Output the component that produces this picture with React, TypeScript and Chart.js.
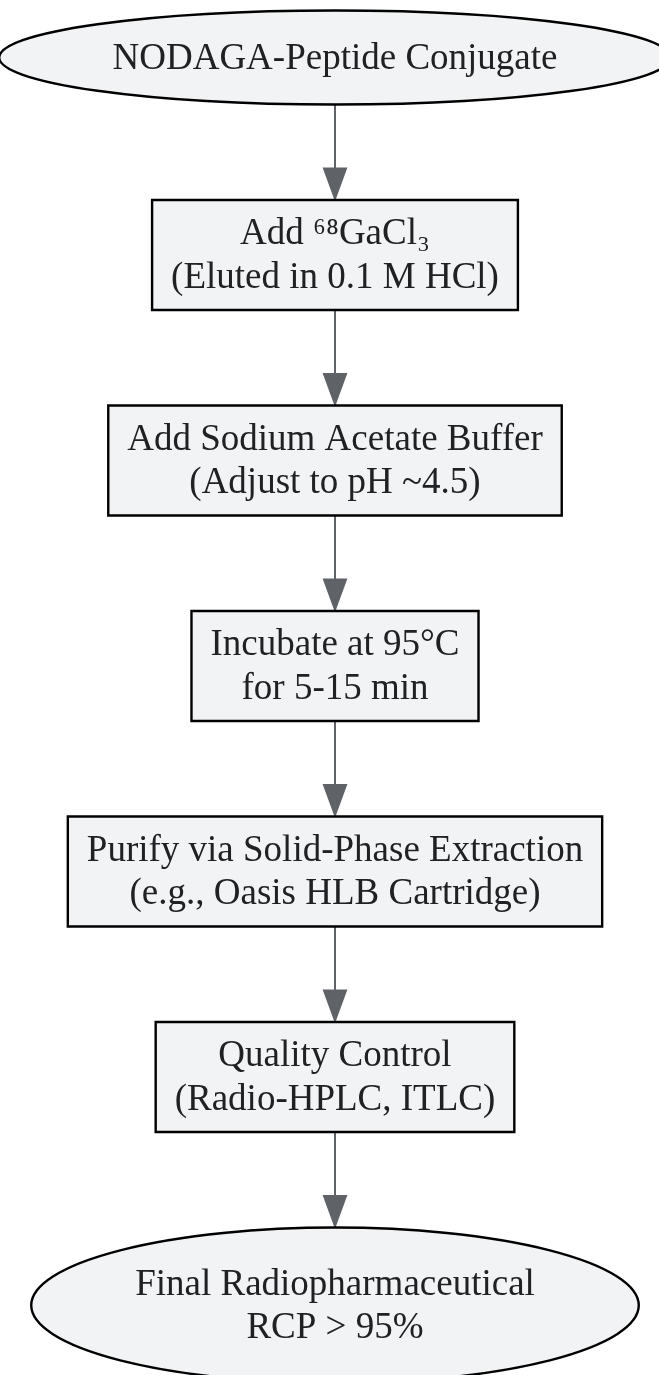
import React, { useEffect, useRef } from "react";
import { Chart, registerables } from "chart.js";

Chart.register(...registerables);

// ---- data ----
const stepLines: string[][] = [
  ["NODAGA-Peptide Conjugate"],
  ["Add ⁶⁸GaCl₃", "(Eluted in 0.1 M HCl)"],
  ["Add Sodium Acetate Buffer", "(Adjust to pH ~4.5)"],
  ["Incubate at 95°C", "for 5-15 min"],
  ["Purify via Solid-Phase Extraction", "(e.g., Oasis HLB Cartridge)"],
  ["Quality Control", "(Radio-HPLC, ITLC)"],
  ["Final Radiopharmaceutical", "RCP > 95%"],
];
const stepShapes = ["ellipse", "box", "box", "box", "box", "box", "ellipse"];
const edgeFrom = [0, 1, 2, 3, 4, 5];
const edgeTo = [1, 2, 3, 4, 5, 6];

// ---- style / layout constants ----
const W = 659;
const H = 1375;
const AXIS_X = 335;
const FONT_PX = 37;
const FONT = `${FONT_PX}px 'Liberation Serif', 'Times New Roman', serif`;
const LINE_H = 43.5;
const PAD_X = 19;
const ELL_PAD_X = 15;
const PAD_Y = 11.5;
const RANK_GAP = 95.5;
const TOP = 10.5;
const ELLIPSE_K = 1.414;
const FILL = "#f1f3f4";
const STROKE = "#000000";
const TEXT = "#202124";
const EDGE = "#5f6368";
const HEAD_LEN = 30;
const HEAD_HALF = 11;

function nodeHeight(i: number) {
  const base = stepLines[i].length * LINE_H + 2 * PAD_Y;
  return stepShapes[i] === "ellipse" ? base * ELLIPSE_K : base;
}

// rank layout: centres along the flow axis
const rankCenters: number[] = (() => {
  const out: number[] = [];
  let y = TOP;
  for (let i = 0; i < stepLines.length; i++) {
    const h = nodeHeight(i);
    out.push(y + h / 2);
    y += h + RANK_GAP;
  }
  return out;
})();

const flowPlugin = {
  id: "flowNodes",
  afterDatasetsDraw(chart: any) {
    const ctx: CanvasRenderingContext2D = chart.ctx;
    const meta = chart.getDatasetMeta(0);
    ctx.save();
    ctx.font = FONT;
    const geo = stepLines.map((lines, i) => {
      const el = meta.data[i];
      const tw = Math.max(...lines.map((l) => ctx.measureText(l).width));
      const h = nodeHeight(i);
      const w =
        stepShapes[i] === "ellipse" ? (tw + 2 * ELL_PAD_X) * ELLIPSE_K : tw + 2 * PAD_X;
      return { x: el.x, y: el.y, w, h };
    });

    // edges
    edgeFrom.forEach((a, k) => {
      const b = edgeTo[k];
      const ga = geo[a];
      const gb = geo[b];
      const x = ga.x;
      const y0 = ga.y + ga.h / 2;
      const tip = gb.y - gb.h / 2 - 1.5;
      ctx.strokeStyle = EDGE;
      ctx.fillStyle = EDGE;
      ctx.lineWidth = 2;
      ctx.beginPath();
      ctx.moveTo(x, y0);
      ctx.lineTo(x, tip - HEAD_LEN);
      ctx.stroke();
      ctx.beginPath();
      ctx.moveTo(x - HEAD_HALF, tip - HEAD_LEN);
      ctx.lineTo(x + HEAD_HALF, tip - HEAD_LEN);
      ctx.lineTo(x, tip);
      ctx.closePath();
      ctx.fill();
      ctx.stroke();
    });

    // nodes
    geo.forEach((g, i) => {
      ctx.beginPath();
      if (stepShapes[i] === "ellipse") {
        ctx.ellipse(g.x, g.y, g.w / 2, g.h / 2, 0, 0, Math.PI * 2);
      } else {
        ctx.rect(g.x - g.w / 2, g.y - g.h / 2, g.w, g.h);
      }
      ctx.fillStyle = FILL;
      ctx.fill();
      ctx.lineWidth = 2.4;
      ctx.strokeStyle = STROKE;
      ctx.stroke();

      const lines = stepLines[i];
      ctx.fillStyle = TEXT;
      ctx.textAlign = "center";
      ctx.textBaseline = "middle";
      lines.forEach((l, j) => {
        const ly = g.y + (j - (lines.length - 1) / 2) * LINE_H + 1.5;
        ctx.fillText(l, g.x, ly);
      });
    });
    ctx.restore();
  },
};

export default function App() {
  const ref = useRef<HTMLCanvasElement | null>(null);
  useEffect(() => {
    document.body.style.margin = "0";
    if (!ref.current) return;
    const chart = new Chart(ref.current, {
      type: "scatter",
      data: {
        datasets: [
          {
            data: rankCenters.map((y) => ({ x: 0, y })),
            pointRadius: 0,
            pointHoverRadius: 0,
          },
        ],
      },
      options: {
        responsive: false,
        animation: false,
        events: [],
        layout: { padding: 0 },
        scales: {
          x: { type: "linear", min: -AXIS_X, max: W - AXIS_X, display: false },
          y: { type: "linear", min: 0, max: H, reverse: true, display: false },
        },
        plugins: { legend: { display: false }, tooltip: { enabled: false } },
      },
      plugins: [flowPlugin],
    });
    return () => chart.destroy();
  }, []);
  return (
    <div style={{ width: W, height: H, background: "#ffffff" }}>
      <canvas ref={ref} width={W} height={H} style={{ display: "block" }} />
    </div>
  );
}
